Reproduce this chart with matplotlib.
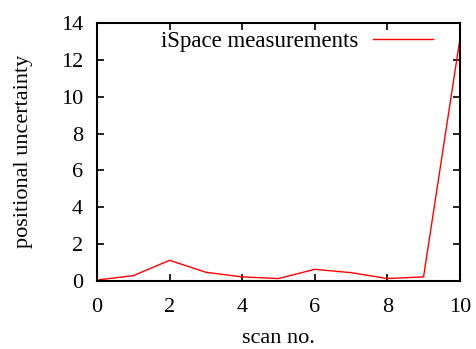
import matplotlib
matplotlib.use("Agg")
import matplotlib.pyplot as plt

scan = [0, 1, 2, 3, 4, 5, 6, 7, 8, 9, 10]
uncertainty = [0.05, 0.29, 1.12, 0.47, 0.22, 0.13, 0.63, 0.45, 0.13, 0.22, 13.1]

plt.rcParams['font.family'] = ['Liberation Serif', 'DejaVu Serif']
plt.rcParams['font.size'] = 16

fig = plt.figure(figsize=(4.76, 3.49), dpi=100)
ax = fig.add_axes([0.204, 0.195, 0.762, 0.739])
ax.plot(scan, uncertainty, color='red', lw=1.0, label='iSpace measurements')
ax.set_xlim(0, 10)
ax.set_ylim(0, 14)
ax.set_xticks([0, 2, 4, 6, 8, 10])
ax.set_yticks([0, 2, 4, 6, 8, 10, 12, 14])
ax.tick_params(direction='in', top=True, right=True, length=5, width=1.2, labelsize=16)
ax.tick_params(axis='x', pad=12)
ax.tick_params(axis='y', pad=10)
for s in ax.spines.values():
    s.set_linewidth(1.5)
ax.set_xlabel('scan no.', fontsize=16)
ax.set_ylabel('positional uncertainty', fontsize=16)
ax.xaxis.set_label_coords(0.5, -0.24)
ax.xaxis.label.set_va('baseline')
ax.yaxis.set_label_coords(-0.204, 0.502)
ax.yaxis.label.set_va('center')
leg = ax.legend(loc='upper right', frameon=False, markerfirst=False, handlelength=2.6,
                handletextpad=0.62, fontsize=16.5, borderaxespad=0.3,
                bbox_to_anchor=(0.969, 1.031))
fig.savefig('out.png', dpi=100)
